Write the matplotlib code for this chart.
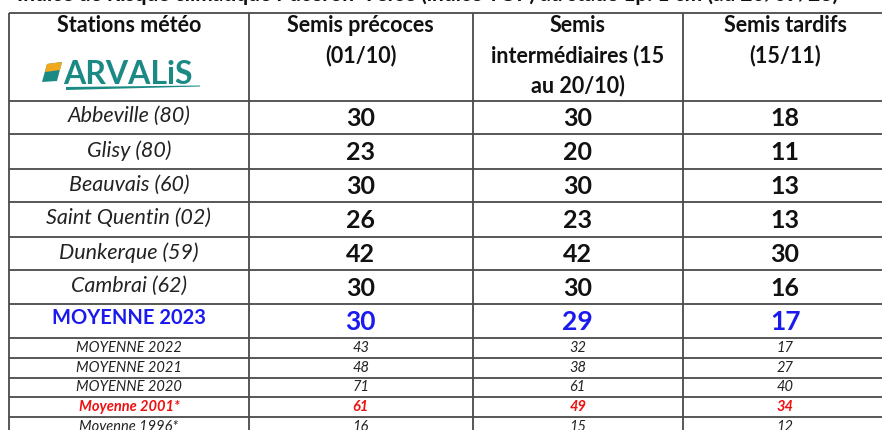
import matplotlib.pyplot as plt
from matplotlib.patches import Polygon

# ---------- Data ----------
title = "Indice de Risque climatique Puceron-Verse (indice TOP) au stade 1p. 1 cm (au 20/09/23)"

headers = [["Stations météo"],
           ["Semis précoces", "(01/10)"],
           ["Semis", "intermédiaires (15", "au 20/10)"],
           ["Semis tardifs", "(15/11)"]]

stations = ["Abbeville (80)", "Glisy (80)", "Beauvais (60)", "Saint Quentin (02)", "Dunkerque (59)", "Cambrai (62)"]
precoces = [30, 23, 30, 26, 42, 30]
intermediaires = [30, 20, 30, 23, 42, 30]
tardifs = [18, 11, 13, 13, 30, 16]

moy_label = "MOYENNE 2023"
moy_2023 = [30, 29, 17]

hist_labels = ["MOYENNE 2022", "MOYENNE 2021", "MOYENNE 2020", "Moyenne 2001*", "Moyenne 1996*"]
hist_precoces = [43, 48, 71, 61, 16]
hist_inter = [32, 38, 61, 49, 15]
hist_tardifs = [17, 27, 40, 34, 12]

# ---------- Layout (pixels) ----------
col_edges = [9, 248.7, 472.7, 682.7, 900]
col_centers = [128.9, 360.7, 577.7, 785]
row_lines = [12.7, 100.7, 134, 169, 202, 236.7, 270, 304, 338, 357.7, 377.7, 397, 416.7, 436.5]
header_lines_y = [25, 56, 86]

FONT = "Lato"
LINE = "#4a4a4a"
BLUE = "#1a1aee"
RED = "#ee1111"
TEAL = "#1b8a85"

fig = plt.figure(figsize=(8.82, 4.30), dpi=100)
ax = fig.add_axes([0, 0, 1, 1])
ax.set_xlim(0, 882)
ax.set_ylim(430, 0)
ax.axis("off")

# title, cropped at the top of the picture
ax.text(428, -5, title, ha="center", va="center", fontsize=15, fontweight="bold",
        family=FONT, color="#111111")

# grid
for y in row_lines:
    ax.plot([col_edges[0], col_edges[-1]], [y, y], color=LINE, lw=1.3, solid_capstyle="butt")
for x in col_edges[:-1]:
    ax.plot([x, x], [row_lines[0], row_lines[-1]], color=LINE, lw=1.3, solid_capstyle="butt")

# header
for c, lines in zip(col_centers, headers):
    for y, line in zip(header_lines_y, lines):
        ax.text(c, y, line, ha="center", va="center", fontsize=15.5,
                fontweight="bold", family=FONT, color="#111111")

# logo
ax.add_patch(Polygon([[47, 64], [62, 62], [57, 81], [42, 82]], closed=True,
                     color=TEAL, lw=0))
ax.add_patch(Polygon([[47, 64], [62, 62], [60, 70], [45, 72]], closed=True,
                     color="#f2a81d", lw=0))
ax.text(63, 74, "ARVALiS", ha="left", va="center", fontsize=23, fontweight="bold",
        family=FONT, color=TEAL)
ax.add_patch(Polygon([[66, 87], [200, 85.5], [200, 86.5], [66, 90]], closed=True,
                     color=TEAL, lw=0))

# station rows
for i, name in enumerate(stations):
    yc = (row_lines[1 + i] + row_lines[2 + i]) / 2
    ax.text(col_centers[0], yc - 1, name, ha="center", va="center", fontsize=15.5,
            style="italic", family=FONT, color="#222222")
    for c, v in zip(col_centers[1:], [precoces[i], intermediaires[i], tardifs[i]]):
        ax.text(c, yc + 1, str(v), ha="center", va="center", fontsize=18,
                fontweight="bold", family=FONT, color="#111111")

# mean 2023
yc = (row_lines[7] + row_lines[8]) / 2
ax.text(col_centers[0], yc - 3, moy_label, ha="center", va="center", fontsize=14.5,
        fontweight="bold", family=FONT, color=BLUE)
for c, v in zip(col_centers[1:], moy_2023):
    ax.text(c, yc + 1, str(v), ha="center", va="center", fontsize=19,
            fontweight="bold", family=FONT, color=BLUE)

# historical means
for i, lab in enumerate(hist_labels):
    yc = (row_lines[8 + i] + row_lines[9 + i]) / 2
    red = lab.startswith("Moyenne 2001")
    color = RED if red else "#222222"
    weight = "bold" if red else "normal"
    ax.text(col_centers[0], yc, lab, ha="center", va="center", fontsize=10.5,
            style="italic", fontweight=weight, family=FONT, color=color)
    for c, v in zip(col_centers[1:], [hist_precoces[i], hist_inter[i], hist_tardifs[i]]):
        ax.text(c, yc, str(v), ha="center", va="center", fontsize=10.5,
                style="italic", fontweight=weight, family=FONT, color=color)

fig.savefig("out.png", dpi=100)
